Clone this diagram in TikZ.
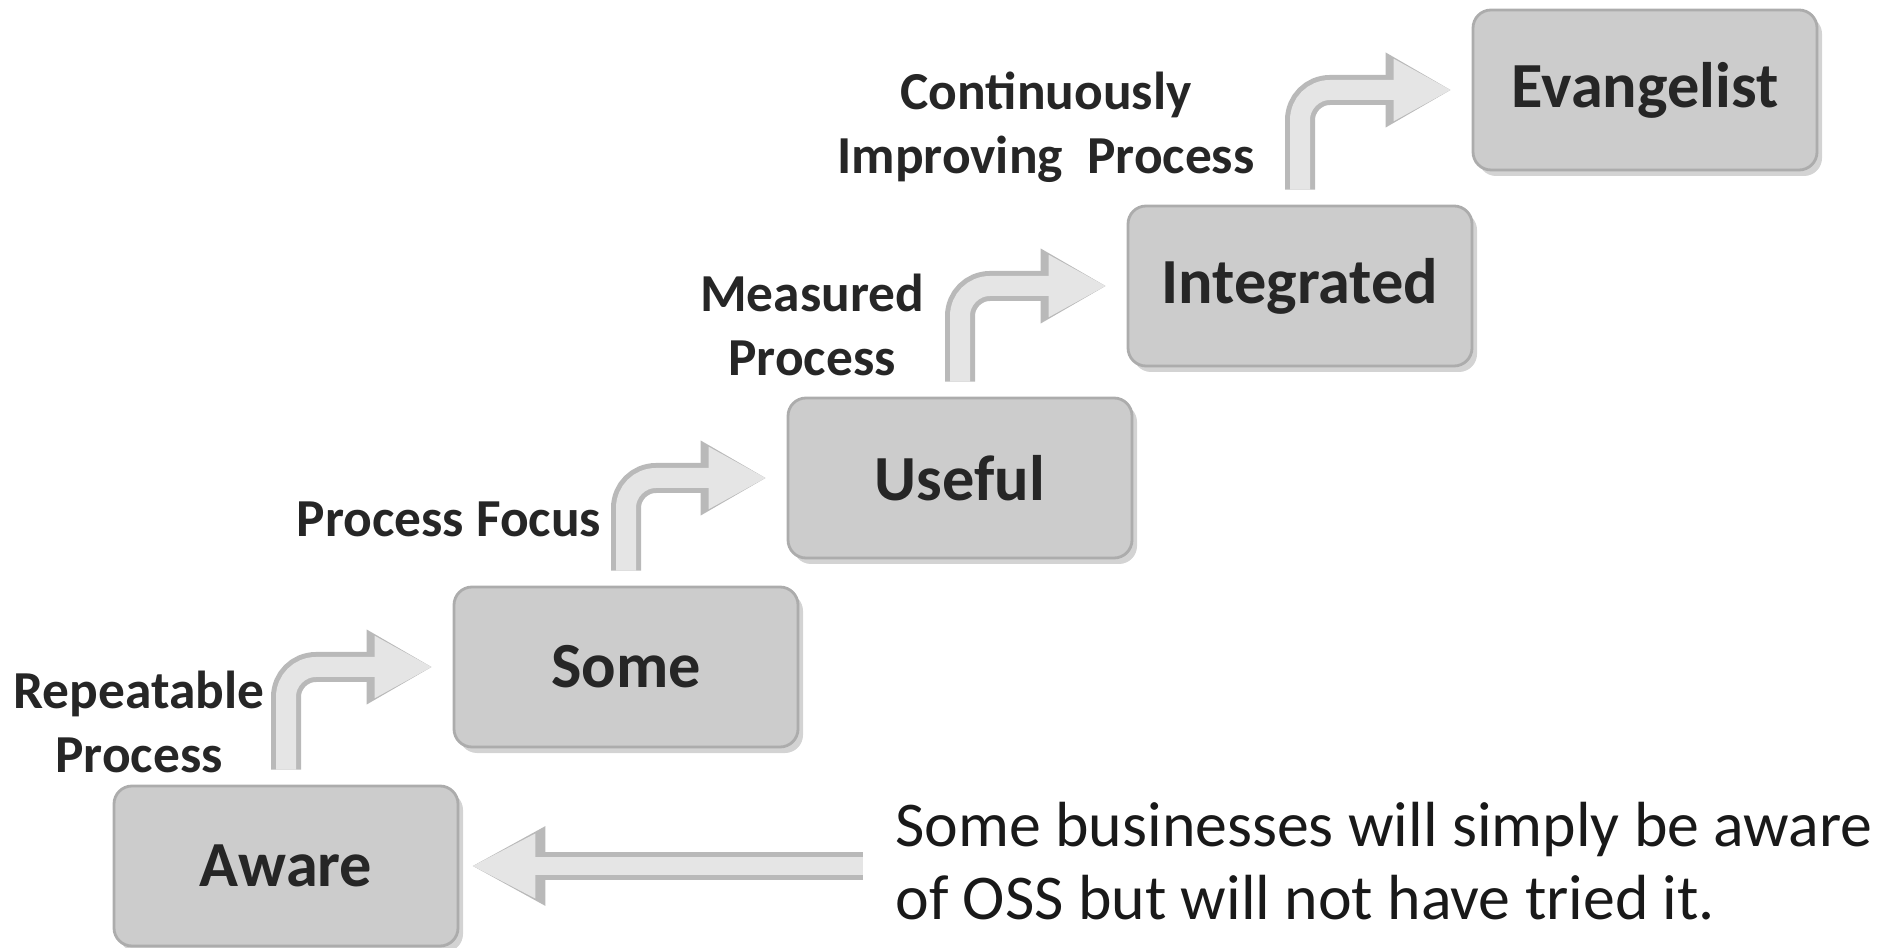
\documentclass[tikz,border=0pt]{standalone}
\usepackage{fontspec}
\setmainfont{Carlito}
\usetikzlibrary{arrows.meta,shadows}
\begin{document}
\begin{tikzpicture}[stage/.style={rectangle,draw=gray!65,line width=0.8pt,fill=gray!40,rounded corners=0.18cm,minimum width=3.44cm,minimum height=1.6cm,inner sep=0pt,drop shadow={opacity=0.35,shadow xshift=0.05cm,shadow yshift=-0.06cm},font=\fontsize{18.3}{20}\selectfont\bfseries,text=black!85},
label/.style={align=center,font=\fontsize{15.2}{18.2}\selectfont\bfseries,text=black!85},
stair/.style={rounded corners=0.3cm,shorten <=0.15cm,shorten >=0.2cm,preaction={draw=gray!55,line width=0.30cm,rounded corners=0.3cm,shorten <=0.15cm,shorten >=0.2cm,-{Triangle[length=0.66cm,width=0.70cm]}},draw=gray!20,line width=0.20cm,-{Triangle[length=0.58cm,width=0.58cm]}},
back/.style={shorten <=0.2cm,shorten >=0.12cm,preaction={draw=gray!55,line width=0.28cm,shorten <=0.2cm,shorten >=0.12cm,-{Triangle[length=0.74cm,width=0.74cm]}},draw=gray!20,line width=0.18cm,-{Triangle[length=0.64cm,width=0.60cm]}}]
\useasboundingbox (0,0) rectangle (18.92,9.47);
\node[stage] (s1) at (2.86,0.81) {Aware};
\node[stage] (s2) at (6.26,2.80) {Some};
\node[stage] (s3) at (9.60,4.69) {Useful};
\node[stage] (s4) at (13.0,6.61) {Integrated};
\node[stage] (s5) at (16.45,8.57) {Evangelist};
\node[label] (p1) at (1.39,2.25) {Repeatable\\Process};
\node[label] (p2) at (4.49,4.28) {Process Focus};
\node[label] (p3) at (8.12,6.22) {Measured\\Process};
\node[label] (p4) at (10.46,8.20) {Continuously\\Improving~~Process};
\node[align=left,anchor=west,font=\fontsize{18.15}{20.6}\selectfont,text=black!90] (n1) at (8.83,0.86) {Some businesses will simply be aware\\of OSS but will not have tried it.};
\draw[stair] (s1.north) |- (s2.west);
\draw[stair] (s2.north) |- (s3.west);
\draw[stair] (s3.north) |- (s4.west);
\draw[stair] (s4.north) |- (s5.west);
\draw[back] (s1.east -| n1.west) -- (s1.east);
\end{tikzpicture}
\end{document}
